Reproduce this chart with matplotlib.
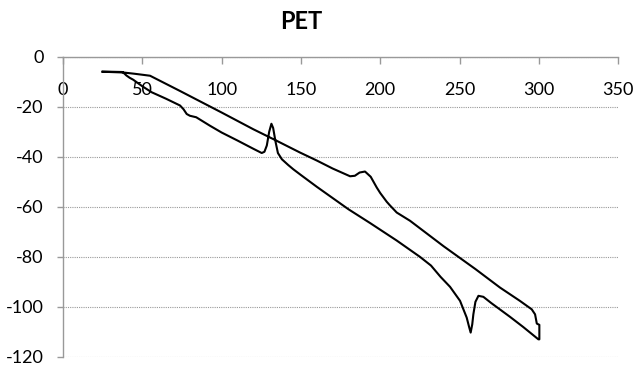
import matplotlib
matplotlib.use("Agg")
import matplotlib.pyplot as plt

plt.rcParams['font.family'] = ['Lato', 'DejaVu Sans']
plt.rcParams['axes.unicode_minus'] = False

# DSC trace for PET: heating run (lower branch) then cooling back (upper branch)
temp = [25, 30, 37, 38, 40, 42, 44.3, 50, 55.9, 65, 73.8, 76, 78, 80, 84,
        92.7, 100, 110, 120, 125.3, 127, 128.5, 130, 131.4, 132.5, 134, 135.5,
        138, 142, 145.2, 150, 160, 170, 180, 193.6, 210.4, 225, 232, 238, 244,
        250.3, 254.5, 256, 257, 258, 258.7, 260, 261.9, 265, 270, 281.8, 290,
        299.7, 300.3, 300.3, 298.7, 297.6, 295.5, 288, 275.5, 260, 240, 218.8,
        210.4, 206.2, 204.1, 200, 197.8, 194, 190.4, 187, 184, 181, 170, 160,
        149.4, 134.7, 120, 100, 73.8, 54.9, 50, 45, 38, 25]
heat_flow = [-6.0, -6.0, -6.1, -6.3, -7.5, -8.4, -9.2, -11.8, -14.2, -16.8,
             -19.5, -21.0, -22.9, -23.6, -24.2, -27.6, -30.3, -33.5, -36.8,
             -38.5, -38.0, -35.5, -30.0, -26.8, -28.5, -34.0, -38.5, -41.0,
             -43.3, -45.0, -47.3, -52.0, -56.5, -61.0, -66.5, -73.5, -80.0,
             -83.5, -88.0, -92.0, -97.6, -104.3, -108.0, -110.3, -107.0,
             -103.0, -98.0, -95.6, -96.0, -98.5, -104.0, -108.0, -113.0, -113.0,
             -107.2, -106.7, -103.0, -101.0, -97.6, -92.3, -84.9, -75.8, -65.6,
             -62.3, -59.5, -58.0, -54.5, -52.3, -48.0, -45.9, -46.3, -47.6,
             -47.8, -44.7, -41.5, -38.3, -33.6, -29.0, -22.3, -13.7, -7.6,
             -7.2, -6.8, -6.3, -6.0]

x_ticks = [0, 50, 100, 150, 200, 250, 300, 350]
y_ticks = [0, -20, -40, -60, -80, -100, -120]

fig = plt.figure(figsize=(6.36, 3.66), dpi=100)
ax = fig.add_axes([0.099, 0.025, 0.873, 0.82])

ax.plot(temp, heat_flow, color='black', linewidth=1.5)

ax.set_xlim(0, 350)
ax.set_ylim(-120, 0)
ax.set_xticks(x_ticks)
ax.set_yticks(y_ticks)

# x axis sits on the y=0 line at the top, labels hang below it
ax.xaxis.tick_top()
ax.tick_params(axis='x', direction='in', length=5, width=1, color='#999999',
               pad=-30, labelsize=13)
ax.tick_params(axis='y', direction='out', length=4, width=1, color='#999999',
               pad=10, labelsize=13)

for side in ['right', 'bottom']:
    ax.spines[side].set_visible(False)
for side in ['left', 'top']:
    ax.spines[side].set_color('#999999')
    ax.spines[side].set_linewidth(1)

ax.yaxis.grid(True, linestyle=(0, (1, 1)), color='#999999', linewidth=0.8)
ax.set_axisbelow(True)

fig.text(0.473, 0.94, 'PET', ha='center', va='center', fontsize=17,
         fontweight='bold')

fig.savefig('out.png', dpi=100)
